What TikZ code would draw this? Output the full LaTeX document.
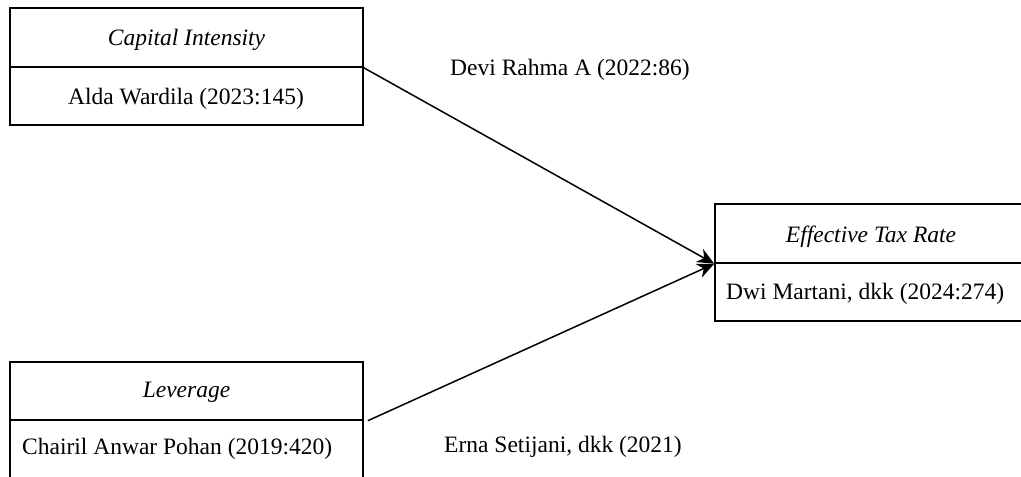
\documentclass[tikz,border=0pt]{standalone}
\usepackage{fontspec}
\setmainfont{Liberation Serif}
\usetikzlibrary{arrows.meta}
\begin{document}
\begin{tikzpicture}[x=1pt,y=1pt,
  box/.style={draw, line width=1.5pt, rectangle, inner sep=0pt, anchor=center},
  txt/.style={inner sep=0pt, font=\fontsize{23.5}{28}\selectfont},
  conn/.style={line width=1.5pt, -{Stealth[length=17pt,width=15pt]}}]
\useasboundingbox (0,0) rectangle (1021,-477);
% Box 1
\node[box, minimum width=353pt, minimum height=59pt] (ci) at (186.5,-37.5) {};
\node[box, minimum width=353pt, minimum height=58pt] (ciref) at (186.5,-96) {};
\node[txt] (ciT) at (186.5,-39.5) {\itshape Capital Intensity};
\node[txt] (cirefT) at (186,-98.5) {Alda Wardila (2023:145)};
% Box 2
\node[box, minimum width=353pt, minimum height=58pt] (lev) at (186.5,-391) {};
\node[box, minimum width=353pt, minimum height=80pt] (levref) at (186.5,-460) {};
\node[txt] (levT) at (186.5,-392.5) {\itshape Leverage};
\node[txt, anchor=west] (levrefT) at (22,-448.5) {Chairil Anwar Pohan (2019:420)};
% Box 3
\node[box, minimum width=320pt, minimum height=59pt] (etr) at (875,-233.5) {};
\node[box, minimum width=320pt, minimum height=58pt] (etrref) at (875,-292) {};
\node[txt] (etrT) at (871,-236.5) {\itshape Effective Tax Rate};
\node[txt, anchor=west] (etrrefT) at (726,-293.5) {Dwi Martani, dkk (2024:274)};
% Connectors
\coordinate (levout) at ([xshift=4pt]lev.south east);
\draw[conn] (ci.south east) -- (etr.south west);
\draw[conn] (levout) -- (etr.south west);
% Labels
\node[txt] (l1) at (570,-69.5) {Devi Rahma A (2022:86)};
\node[txt] (l2) at (563,-446.5) {Erna Setijani, dkk (2021)};
\end{tikzpicture}
\end{document}
